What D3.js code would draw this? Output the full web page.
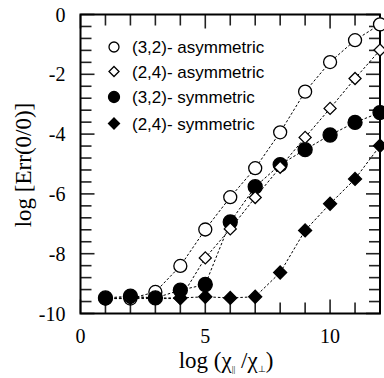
<!DOCTYPE html>
<html>
<head>
<meta charset="utf-8">
<script src="https://cdn.jsdelivr.net/npm/d3@7"></script>
<style>
  body { margin: 0; background: #fff; }
  svg { display: block; }
</style>
</head>
<body>
<div id="chart"></div>
<script>
// ratio steps, log(chi_par / chi_perp)
const xs = [1, 2, 3, 4, 5, 6, 7, 8, 9, 10, 11, 12];

// log Err(0/0) for each scheme
const asym32 = [-9.5, -9.5, -9.28, -8.41, -7.19, -6.11, -5.14, -3.94, -2.58, -1.59, -0.86, -0.33];
const asym24 = [-9.5, -9.5, -9.5, -9.5, -8.14, -7.17, -6.12, -5.11, -4.11, -3.14, -2.14, -1.19];
const sym32 = [-9.48, -9.42, -9.48, -9.22, -9.03, -6.94, -5.76, -5.02, -4.52, -4.03, -3.61, -3.28];
const sym24 = [-9.5, -9.46, -9.48, -9.48, -9.44, -9.48, -9.44, -8.63, -7.22, -6.33, -5.5, -4.39];

const seriesNames = ['(3,2)- asymmetric', '(2,4)- asymmetric', '(3,2)- symmetric', '(2,4)- symmetric'];

const xTickLabels = [0, 5, 10];
const yTickLabels = [0, -2, -4, -6, -8, -10];

const W = 384, H = 378;
const margin = {top: 14.5, right: 4, bottom: 64.5, left: 80.5};
const width = W - margin.left - margin.right;
const height = H - margin.top - margin.bottom;

const serif = '"Liberation Serif", "Times New Roman", serif';
const sans = '"Liberation Sans", Arial, Helvetica, sans-serif';

const xscale = d3.scaleLinear().domain([0, 12]).range([0, width]);
const yscale = d3.scaleLinear().domain([-10, 0]).range([height, 0]);

const svg = d3.select('#chart').append('svg')
    .attr('width', W).attr('height', H);
const g = svg.append('g')
    .attr('transform', `translate(${margin.left}, ${margin.top})`);

// ticks on all four sides, pointing inward
const xTicks = d3.range(0, 13, 1);
const yTicks = d3.range(0, 26).map(i => -10 + i * 0.4);
const isMajorX = d => d % 5 === 0;
const isMajorY = d => Math.abs(Math.round(d / 2) * 2 - d) < 1e-6;

const ticks = g.append('g').attr('class', 'ticks')
    .attr('stroke', '#222').attr('stroke-width', 1.6);

xTicks.forEach(d => {
    const len = isMajorX(d) ? 14 : 11;
    ticks.append('line')
        .attr('x1', xscale(d)).attr('x2', xscale(d))
        .attr('y1', height).attr('y2', height - len);
    ticks.append('line')
        .attr('x1', xscale(d)).attr('x2', xscale(d))
        .attr('y1', 0).attr('y2', len);
});
yTicks.forEach(d => {
    const len = isMajorY(d) ? 14 : 11;
    ticks.append('line')
        .attr('y1', yscale(d)).attr('y2', yscale(d))
        .attr('x1', 0).attr('x2', len);
    ticks.append('line')
        .attr('y1', yscale(d)).attr('y2', yscale(d))
        .attr('x1', width).attr('x2', width - len);
});

// frame
g.append('rect')
    .attr('width', width).attr('height', height)
    .attr('fill', 'none').attr('stroke', '#000').attr('stroke-width', 2);

// tick labels
g.append('g').selectAll('text').data(xTickLabels).enter()
    .append('text')
    .attr('x', d => xscale(d))
    .attr('y', height + 29)
    .attr('text-anchor', 'middle')
    .style('font-family', serif).style('font-size', '20px')
    .text(d => d);

g.append('g').selectAll('text').data(yTickLabels).enter()
    .append('text')
    .attr('x', -15)
    .attr('y', d => yscale(d))
    .attr('dy', '0.35em')
    .attr('text-anchor', 'end')
    .style('font-family', serif).style('font-size', '20px')
    .text(d => d);

// axis labels
const xl = svg.append('text')
    .attr('x', 226).attr('y', 368)
    .attr('text-anchor', 'middle')
    .style('font-family', serif).style('font-size', '23px');
xl.append('tspan').text('log (χ');
xl.append('tspan').attr('dy', 4).style('font-size', '9px').text('||');
xl.append('tspan').attr('dy', -4).text(' /χ');
xl.append('tspan').attr('dy', 4).style('font-size', '9px').text('⊥');
xl.append('tspan').attr('dy', -4).text(')');

svg.append('text')
    .attr('transform', 'translate(31, 165) rotate(-90)')
    .attr('text-anchor', 'middle')
    .style('font-family', serif).style('font-size', '23px')
    .text('log [Err(0/0)]');

// series
const line = d3.line().x(d => xscale(d[0])).y(d => yscale(d[1]));
const series = [
    {vals: asym32, shape: 'circle', fill: '#fff', r: 6.5},
    {vals: sym32, shape: 'circle', fill: '#000', r: 7},
    {vals: asym24, shape: 'diamond', fill: '#fff', r: 6},
    {vals: sym24, shape: 'diamond', fill: '#000', r: 6.5}
];

series.forEach(s => {
    g.append('path')
        .datum(xs.map((x, i) => [x, s.vals[i]]))
        .attr('d', line)
        .attr('fill', 'none')
        .attr('stroke', '#000')
        .attr('stroke-width', 1)
        .attr('stroke-dasharray', '2.5,2');
});

function drawMarker(sel, shape, fill, r) {
    if (shape === 'circle') {
        sel.append('circle').attr('r', r)
            .attr('fill', fill).attr('stroke', '#000').attr('stroke-width', 1.3);
    } else {
        sel.append('path')
            .attr('d', `M0,${-r}L${r},0L0,${r}L${-r},0Z`)
            .attr('fill', fill).attr('stroke', '#000').attr('stroke-width', 1.3);
    }
}

series.forEach(s => {
    xs.forEach((x, i) => {
        const m = g.append('g')
            .attr('transform', `translate(${xscale(x)}, ${yscale(s.vals[i])})`);
        drawMarker(m, s.shape, s.fill, s.r);
    });
});

// legend
const legendShapes = [
    {shape: 'circle', fill: '#fff', r: 5},
    {shape: 'diamond', fill: '#fff', r: 5},
    {shape: 'circle', fill: '#000', r: 5.5},
    {shape: 'diamond', fill: '#000', r: 5.5}
];
const legendY = [47, 71.5, 97, 123.5];
const legend = svg.append('g');
seriesNames.forEach((name, i) => {
    const m = legend.append('g').attr('transform', `translate(114, ${legendY[i]})`);
    drawMarker(m, legendShapes[i].shape, legendShapes[i].fill, legendShapes[i].r);
    legend.append('text')
        .attr('x', 132).attr('y', legendY[i])
        .attr('dy', '0.36em')
        .style('font-family', sans).style('font-size', '17px')
        .text(name);
});
</script>
</body>
</html>
